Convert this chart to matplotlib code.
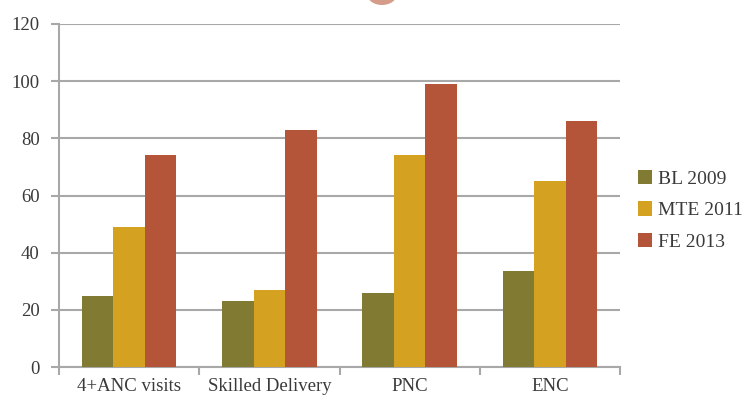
import matplotlib
matplotlib.use("Agg")
import matplotlib.pyplot as plt
import numpy as np
from matplotlib.patches import Ellipse

categories = ["4+ANC visits", "Skilled Delivery", "PNC", "ENC"]
series_names = ["BL 2009", "MTE 2011", "FE 2013"]
bl_2009 = [25, 23, 26, 33.5]
mte_2011 = [49, 27, 74, 65]
fe_2013 = [74, 83, 99, 86]
yticks = [0, 20, 40, 60, 80, 100, 120]

colors = ["#807a33", "#d4a121", "#b45539"]
text_color = "#3a3a3a"
grid_color = "#a8a8a8"

plt.rcParams['font.family'] = ['Liberation Serif', 'DejaVu Serif']

W, H = 748, 403
fig = plt.figure(figsize=(W/100, H/100), dpi=100)
ax = fig.add_axes([59/W, 1-367/H, (620-59)/W, (367-24)/H])

x = np.arange(len(categories)) + 0.5
bw = 0.225
for i, (vals, name) in enumerate(zip([bl_2009, mte_2011, fe_2013], series_names)):
    ax.bar(x + (i-1)*bw, vals, width=bw, color=colors[i], label=name, zorder=3)

ax.set_xlim(0, len(categories))
ax.set_ylim(0, 120)
ax.set_yticks(yticks)
ax.set_yticklabels([str(v) for v in yticks], fontsize=13.5, color=text_color)
ax.yaxis.grid(True, color=grid_color, linewidth=1.5, zorder=0)
ax.set_axisbelow(True)

ax.set_xticks(np.arange(len(categories)+1))
ax.set_xticklabels([])
ax.set_xticks(x, minor=True)
ax.set_xticklabels(categories, minor=True, fontsize=13.5, color=text_color)
ax.tick_params(axis='x', which='minor', length=0, pad=8)
ax.tick_params(axis='x', which='major', length=6, color=grid_color, width=1.5)
ax.tick_params(axis='y', length=6, color=grid_color, width=1.5, pad=8)

for s in ['top', 'right']:
    ax.spines[s].set_visible(False)
ax.spines['left'].set_color(grid_color)
ax.spines['left'].set_linewidth(1.5)
ax.spines['bottom'].set_color(grid_color)
ax.spines['bottom'].set_linewidth(1.5)

leg = fig.legend(loc='upper left', bbox_to_anchor=(634/W, 1-166/H), frameon=False,
                 fontsize=14, handlelength=0.75, handleheight=0.75, handletextpad=0.3,
                 borderaxespad=0, borderpad=0.2,
                 labelspacing=0.7, labelcolor=text_color)

# decorative partial circle at top
circ = Ellipse((382/W, 1+6/H), 30/W, 22/H, transform=fig.transFigure,
               facecolor="#cf8b76", edgecolor="none", alpha=0.85)
fig.patches.append(circ)

fig.savefig("out.png", dpi=100)
